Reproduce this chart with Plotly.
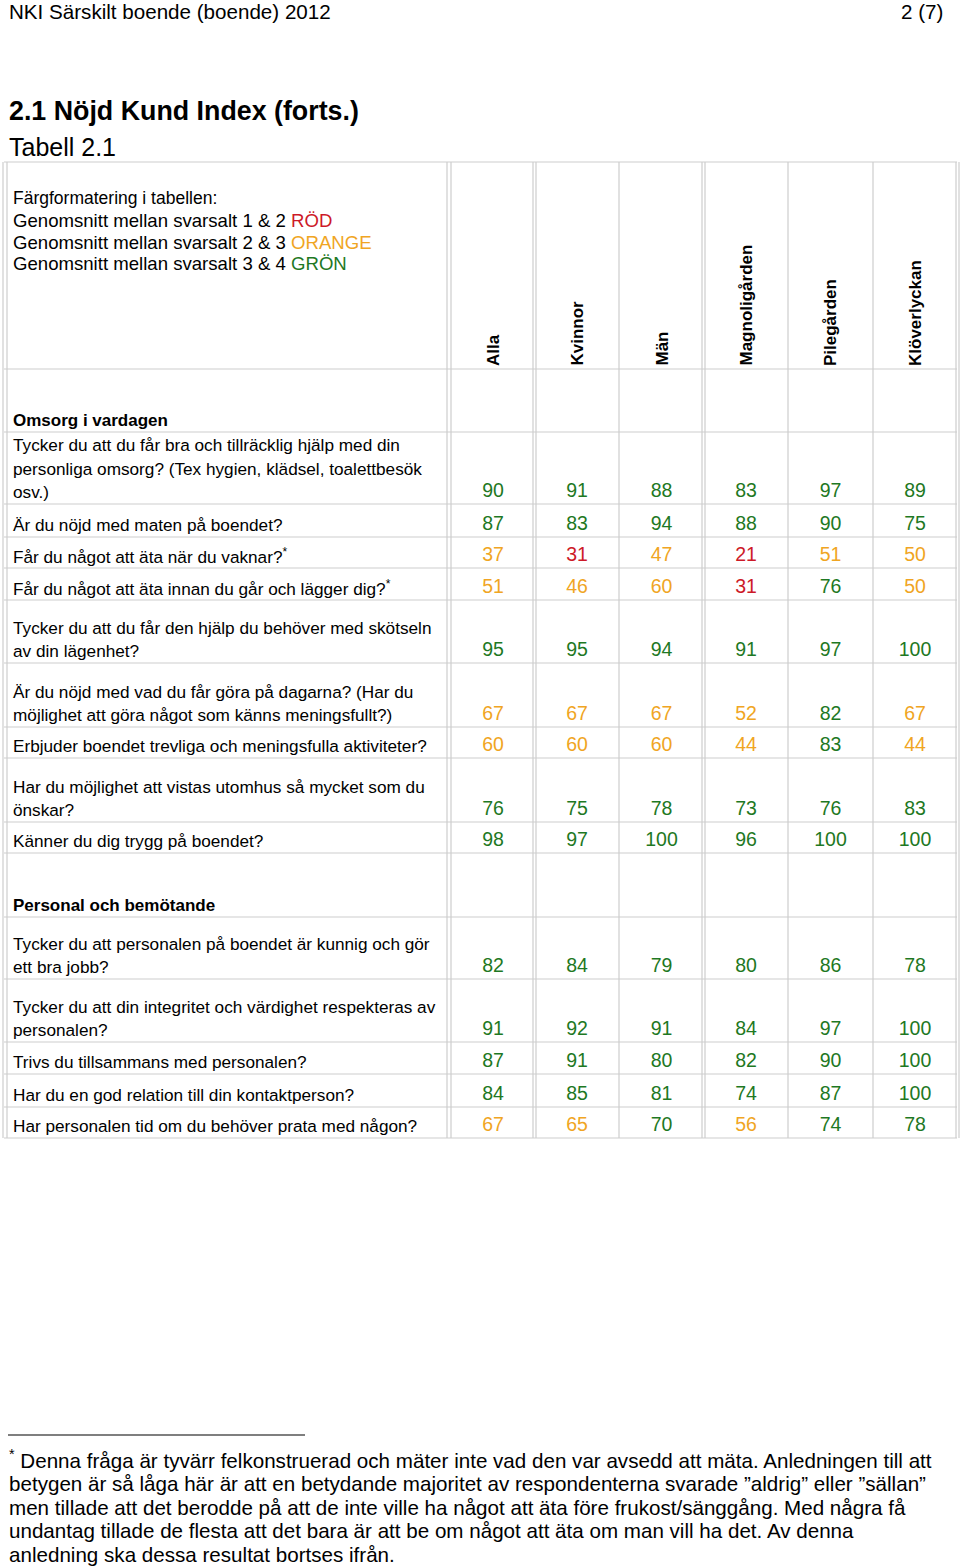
import plotly.graph_objects as go

# ---------------- data ----------------
columns = ["Alla", "Kvinnor", "Män", "Magnoligården", "Pilegården", "Klöverlyckan"]

sections = ["Omsorg i vardagen", "Personal och bemötande"]

questions_omsorg = [
    "Tycker du att du får bra och tillräcklig hjälp med din<br>personliga omsorg? (Tex hygien, klädsel, toalettbesök<br>osv.)",
    "Är du nöjd med maten på boendet?",
    "Får du något att äta när du vaknar?<sup>*</sup>",
    "Får du något att äta innan du går och lägger dig?<sup>*</sup>",
    "Tycker du att du får den hjälp du behöver med skötseln<br>av din lägenhet?",
    "Är du nöjd med vad du får göra på dagarna? (Har du<br>möjlighet att göra något som känns meningsfullt?)",
    "Erbjuder boendet trevliga och meningsfulla aktiviteter?",
    "Har du möjlighet att vistas utomhus så mycket som du<br>önskar?",
    "Känner du dig trygg på boendet?",
]
values_omsorg = [
    [90, 91, 88, 83, 97, 89],
    [87, 83, 94, 88, 90, 75],
    [37, 31, 47, 21, 51, 50],
    [51, 46, 60, 31, 76, 50],
    [95, 95, 94, 91, 97, 100],
    [67, 67, 67, 52, 82, 67],
    [60, 60, 60, 44, 83, 44],
    [76, 75, 78, 73, 76, 83],
    [98, 97, 100, 96, 100, 100],
]
# colour grade: R = röd (1-2), O = orange (2-3), G = grön (3-4)
grades_omsorg = ["GGGGGG", "GGGGGG", "OROROO", "OOORGO", "GGGGGG",
                 "OOOOGO", "OOOOGO", "GGGGGG", "GGGGGG"]

questions_personal = [
    "Tycker du att personalen på boendet är kunnig och gör<br>ett bra jobb?",
    "Tycker du att din integritet och värdighet respekteras av<br>personalen?",
    "Trivs du tillsammans med personalen?",
    "Har du en god relation till din kontaktperson?",
    "Har personalen tid om du behöver prata med någon?",
]
values_personal = [
    [82, 84, 79, 80, 86, 78],
    [91, 92, 91, 84, 97, 100],
    [87, 91, 80, 82, 90, 100],
    [84, 85, 81, 74, 87, 100],
    [67, 65, 70, 56, 74, 78],
]
grades_personal = ["GGGGGG", "GGGGGG", "GGGGGG", "GGGGGG", "OOGOGG"]

page_header = "NKI Särskilt boende (boende) 2012"
page_number = "2 (7)"
heading = "2.1 Nöjd Kund Index (forts.)"
table_title = "Tabell 2.1"
legend_lines = [
    "Färgformatering i tabellen:",
    "Genomsnitt mellan svarsalt 1 & 2 ",
    "Genomsnitt mellan svarsalt 2 & 3 ",
    "Genomsnitt mellan svarsalt 3 & 4 ",
]
legend_words = ["", "RÖD", "ORANGE", "GRÖN"]
legend_grades = ["", "R", "O", "G"]
footnote_lines = [
    "<sup>*</sup> Denna fråga är tyvärr felkonstruerad och mäter inte vad den var avsedd att mäta. Anledningen till att",
    "betygen är så låga här är att en betydande majoritet av respondenterna svarade ”aldrig” eller ”sällan”",
    "men tillade att det berodde på att de inte ville ha något att äta före frukost/sänggång. Med några få",
    "undantag tillade de flesta att det bara är att be om något att äta om man vill ha det. Av denna",
    "anledning ska dessa resultat bortses ifrån.",
]

# ---------------- styling / layout ----------------
W, H = 960, 1567
GRADE_COLOR = {"R": "rgb(205,25,40)", "O": "rgb(240,165,35)", "G": "rgb(30,120,35)"}
GRID = "rgb(205,205,205)"
REG = "Liberation Sans, Arial, sans-serif"

col_edges = [451, 535, 619, 704, 788, 873, 957]
col_centers = [(a + b) / 2 for a, b in zip(col_edges[:-1], col_edges[1:])]

# row bottoms
header_top, header_bottom = 162, 369
sec1_bottom = 432
omsorg_bottoms = [504, 537, 568, 600, 663, 727, 758, 822, 853]
sec2_bottom = 917
personal_bottoms = [979, 1042, 1074, 1107, 1138]
table_bottom = personal_bottoms[-1]

LINE_H = 23.5
TEXT_OFF = 12
Q_SIZE = 17.2

shapes = []
annotations = []


def hline(y, x0=4, x1=957):
    shapes.append(dict(type="line", xref="x", yref="y", x0=x0, x1=x1, y0=y, y1=y,
                       line=dict(color=GRID, width=1.2)))


def vline(x, y0=header_top, y1=table_bottom):
    shapes.append(dict(type="line", xref="x", yref="y", x0=x, x1=x, y0=y0, y1=y1,
                       line=dict(color=GRID, width=1.2)))


def text(x, y, s, size, color="black", xanchor="left", yanchor="middle", bold=False, angle=0):
    if bold:
        s = "<b>" + s + "</b>"
    annotations.append(dict(x=x, y=y, xref="x", yref="y", text=s, showarrow=False,
                            xanchor=xanchor, yanchor=yanchor, textangle=angle,
                            font=dict(family=REG, size=size, color=color),
                            borderpad=0))


# grid lines
for y in [header_top, header_bottom, sec1_bottom] + omsorg_bottoms + [sec2_bottom] + personal_bottoms:
    hline(y)
for x in [3, 7, 447, 451, 533, 536, 619, 702, 705, 788, 873, 956, 959]:
    vline(x)

# page texts
text(8, 11, page_header, 20.6)
text(944, 11, page_number, 20.6, xanchor="right")
text(8, 111, heading, 26.8, bold=True)
text(8, 147, table_title, 25)

# legend inside the header cell
legend_y = [198, 220, 242, 263]
for i, (ln, wd, g) in enumerate(zip(legend_lines, legend_words, legend_grades)):
    s = ln
    if wd:
        s += "<span style='color:%s'>%s</span>" % (GRADE_COLOR[g], wd)
    text(12, legend_y[i], s, 17.5 if i == 0 else 18.6)

# column headers (rotated)
for cx, name in zip(col_centers, columns):
    text(cx, header_bottom - 2, name, 17, xanchor="center", yanchor="bottom", bold=True, angle=-90)


def draw_question(label, bottom):
    parts = label.split("<br>")
    n = len(parts)
    for j, p in enumerate(parts):
        y = bottom - TEXT_OFF - (n - 1 - j) * LINE_H
        text(12, y, p, Q_SIZE)


# section headers
text(12, sec1_bottom - TEXT_OFF, sections[0], 17, bold=True)
text(12, sec2_bottom - TEXT_OFF, sections[1], 17, bold=True)

xs, ys, ts, cs = [], [], [], []
for qs, vals, grs, bots in [(questions_omsorg, values_omsorg, grades_omsorg, omsorg_bottoms),
                            (questions_personal, values_personal, grades_personal, personal_bottoms)]:
    for q, row, gr, b in zip(qs, vals, grs, bots):
        draw_question(q, b)
        for cx, v, g in zip(col_centers, row, gr):
            xs.append(cx)
            ys.append(b - TEXT_OFF)
            ts.append(str(v))
            cs.append(GRADE_COLOR[g])

# footnote
shapes.append(dict(type="line", xref="x", yref="y", x0=8, x1=305, y0=1435, y1=1435,
                   line=dict(color="black", width=1.2)))
foot_y = [1459, 1483, 1507, 1530, 1554]
for y, ln in zip(foot_y, footnote_lines):
    text(8, y, ln, 20.6)

fig = go.Figure()
fig.add_trace(go.Scatter(x=xs, y=ys, text=ts, mode="text", textposition="middle center",
                         textfont=dict(family=REG, size=19.5, color=cs),
                         hoverinfo="skip", showlegend=False))

fig.update_layout(
    width=W, height=H,
    margin=dict(l=0, r=0, t=0, b=0),
    paper_bgcolor="white", plot_bgcolor="white",
    xaxis=dict(range=[0, W], visible=False, fixedrange=True),
    yaxis=dict(range=[H, 0], visible=False, fixedrange=True),
    shapes=shapes, annotations=annotations,
    showlegend=False,
)
fig.write_html("out.html",
               config={"displayModeBar": False, "staticPlot": True},
               post_script="document.body.style.margin='0';document.body.style.overflow='hidden';")
